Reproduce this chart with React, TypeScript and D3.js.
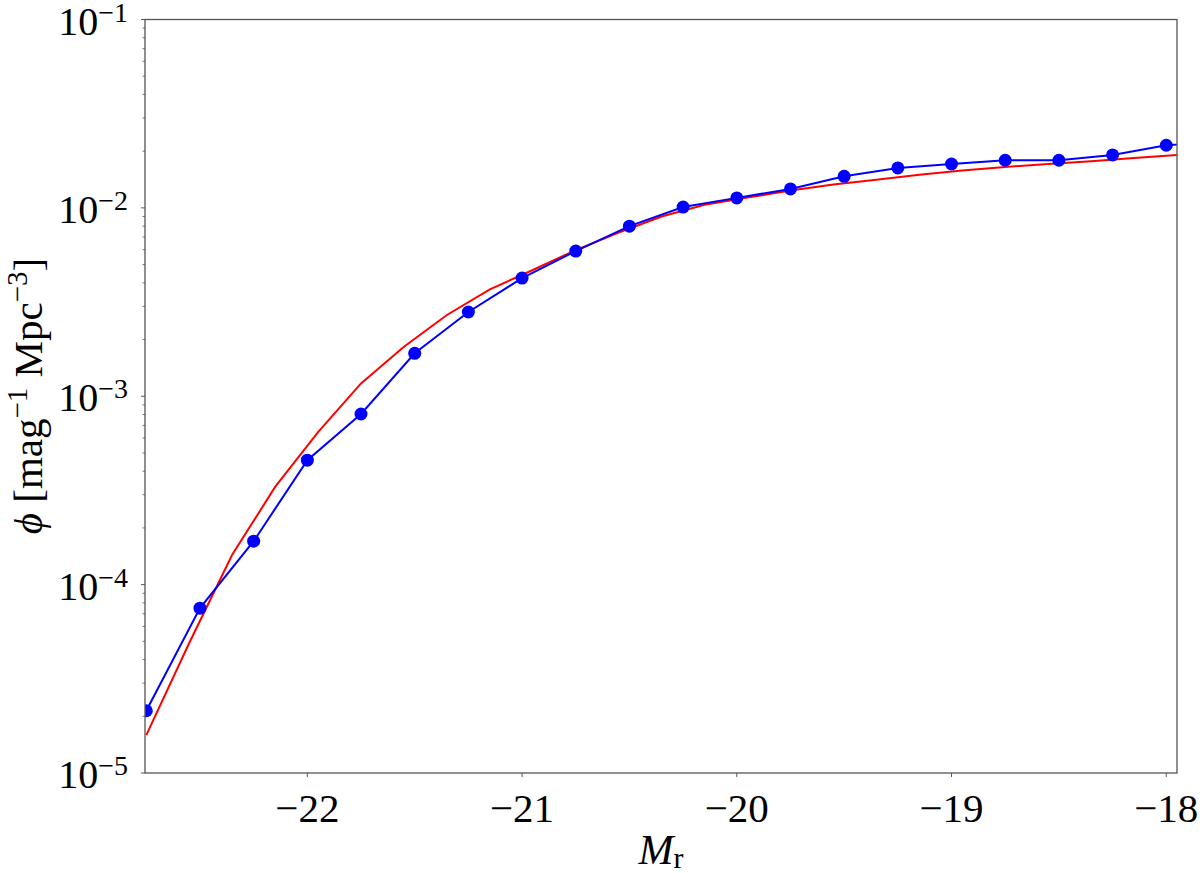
import React from "react";
import * as d3 from "d3";

// Observed data (blue points), absolute magnitude M_r
const obsM = [-22.75, -22.5, -22.25, -22.0, -21.75, -21.5, -21.25, -21.0, -20.75, -20.5, -20.25, -20.0, -19.75, -19.5, -19.25, -19.0, -18.75, -18.5, -18.25, -18.0, -17.75];
const obsPhi = [2.14e-5, 7.5e-5, 1.7e-4, 4.58e-4, 8.05e-4, 1.69e-3, 2.8e-3, 4.24e-3, 5.9e-3, 8.0e-3, 1.01e-2, 1.13e-2, 1.26e-2, 1.47e-2, 1.63e-2, 1.71e-2, 1.79e-2, 1.79e-2, 1.91e-2, 2.15e-2, 2.25e-2];

// Fitted curve (red line)
const fitM = [-22.75, -22.55, -22.35, -22.15, -21.95, -21.75, -21.55, -21.35, -21.15, -20.95, -20.75, -20.55, -20.35, -20.15, -19.95, -19.75, -19.55, -19.35, -19.15, -18.95, -18.75, -18.55, -18.35, -18.15, -17.95];
const fitPhi = [1.59e-5, 4.9e-5, 1.44e-4, 3.3e-4, 6.45e-4, 1.17e-3, 1.83e-3, 2.7e-3, 3.69e-3, 4.68e-3, 5.97e-3, 7.4e-3, 9.0e-3, 1.04e-2, 1.135e-2, 1.235e-2, 1.33e-2, 1.41e-2, 1.5e-2, 1.58e-2, 1.65e-2, 1.71e-2, 1.77e-2, 1.84e-2, 1.91e-2];

const xTicks = [-22, -21, -20, -19, -18];
const yExponents = [-1, -2, -3, -4, -5];

const W = 1200;
const H = 873;
const left = 145, right = 1177, top = 19.5, bottom = 773;
const FONT = "'Liberation Serif', 'DejaVu Serif', serif";

export default function App() {
  const x = d3.scaleLinear().domain([-22.756, -17.95]).range([left, right]);
  const y = d3.scaleLog().domain([1e-5, 1e-1]).range([bottom, top]);

  const obs = obsM.map((m, i) => [m, obsPhi[i]] as [number, number]);
  const fit = fitM.map((m, i) => [m, fitPhi[i]] as [number, number]);
  const line = d3.line<[number, number]>().x(d => x(d[0])).y(d => y(d[1]));

  const minor: number[] = [];
  for (let e = -5; e < -1; e++) {
    for (let k = 2; k <= 9; k++) minor.push(k * Math.pow(10, e));
  }

  const fmtMinus = (v: number) => (v < 0 ? "\u2212" + Math.abs(v) : String(v));

  return (
    <svg width={W} height={H} style={{ position: "absolute", left: 0, top: 0, background: "#fff" }} fontFamily={FONT}>
      <defs>
        <clipPath id="plotclip">
          <rect x={left} y={top} width={right - left} height={bottom - top} />
        </clipPath>
      </defs>
      <rect x={0} y={0} width={W} height={H} fill="#fff" />
      <g clipPath="url(#plotclip)">
        <path d={line(fit) || ""} fill="none" stroke="#ff0000" strokeWidth={2} />
        <path d={line(obs) || ""} fill="none" stroke="#0000ff" strokeWidth={2} />
        {obs.map((d, i) => (
          <circle key={i} cx={x(d[0])} cy={y(d[1])} r={6.5} fill="#0000ff" />
        ))}
      </g>
      {/* spines */}
      <rect x={left} y={top} width={right - left} height={bottom - top} fill="none" stroke="#555" strokeWidth={1.3} />
      {/* x ticks */}
      {xTicks.map(t => (
        <g key={t}>
          <line x1={x(t)} x2={x(t)} y1={bottom} y2={bottom + 4} stroke="#555" strokeWidth={1} />
          <text x={x(t)} y={822} textAnchor="middle" fontSize={41} fill="#000">{fmtMinus(t)}</text>
        </g>
      ))}
      {/* y ticks */}
      {yExponents.map(e => (
        <g key={e}>
          <line x1={left - 4} x2={left} y1={y(Math.pow(10, e))} y2={y(Math.pow(10, e))} stroke="#555" strokeWidth={1} />
          <text x={128} y={y(Math.pow(10, e)) + 15} textAnchor="end" fontSize={40} fill="#000">
            10<tspan fontSize={28} dy={-13}>{"\u2212" + Math.abs(e)}</tspan>
          </text>
        </g>
      ))}
      {minor.map((v, i) => (
        <line key={i} x1={left - 2.5} x2={left} y1={y(v)} y2={y(v)} stroke="#555" strokeWidth={0.8} />
      ))}
      {/* x label */}
      <text x={661} y={864} textAnchor="middle" fontSize={42} fill="#000">
        <tspan fontStyle="italic">M</tspan>
        <tspan fontSize={30} dy={4}>r</tspan>
      </text>
      {/* y label */}
      <text transform={`translate(42,396) rotate(-90)`} textAnchor="middle" fontSize={41} fill="#000">
        <tspan fontStyle="italic">{"\u03D5"}</tspan>
        <tspan>{" [mag"}</tspan>
        <tspan fontSize={29} dy={-15}>{"\u22121"}</tspan>
        <tspan dy={15}>{" Mpc"}</tspan>
        <tspan fontSize={29} dy={-15}>{"\u22123"}</tspan>
        <tspan dy={15}>{"]"}</tspan>
      </text>
    </svg>
  );
}
